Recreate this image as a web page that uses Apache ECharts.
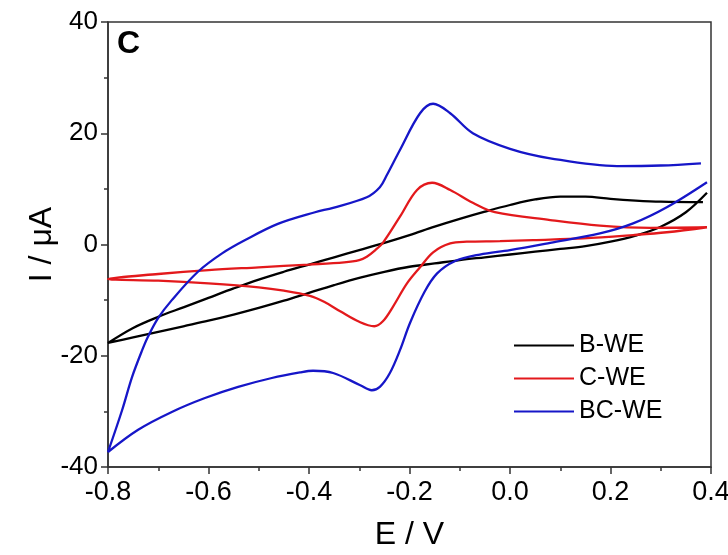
<!DOCTYPE html>
<html>
<head>
<meta charset="utf-8">
<script src="https://cdn.jsdelivr.net/npm/echarts@6/dist/echarts.min.js"></script>
<style>
html,body{margin:0;padding:0;background:#fff;}
#chart{width:728px;height:555px;}
</style>
</head>
<body>
<div id="chart"></div>
<script>
// B-WE (return branch from right end down to -0.8, then forward branch back to right end)
const bE = [0.392, 0.35, 0.3, 0.25, 0.2, 0.15, 0.1, 0.05, 0.0, -0.05, -0.1, -0.15, -0.2, -0.25, -0.3, -0.35, -0.4, -0.45, -0.5, -0.55, -0.6, -0.65, -0.7, -0.75, -0.8,
            -0.75, -0.7, -0.65, -0.6, -0.55, -0.5, -0.45, -0.4, -0.35, -0.3, -0.25, -0.2, -0.15, -0.1, -0.05, 0.0, 0.05, 0.1, 0.15, 0.2, 0.25, 0.3, 0.384];
const bI = [9.3, 5.8, 3.2, 1.6, 0.5, -0.3, -0.8, -1.3, -1.8, -2.3, -2.8, -3.4, -4.0, -4.9, -6.0, -7.3, -8.7, -10.1, -11.4, -12.6, -13.7, -14.7, -15.7, -16.7, -17.7,
            -15.0, -13.0, -11.3, -9.6, -7.9, -6.3, -4.9, -3.6, -2.3, -1.0, 0.3, 1.7, 3.2, 4.6, 5.9, 7.1, 8.1, 8.6, 8.6, 8.2, 7.9, 7.7, 7.6];
// C-WE
const cE = [0.392, 0.312, 0.245, 0.145, 0.046, -0.02, -0.086, -0.119, -0.153, -0.179, -0.205, -0.233, -0.253, -0.27, -0.3, -0.338, -0.37, -0.4, -0.45, -0.5, -0.6, -0.7, -0.8,
            -0.7, -0.6, -0.5, -0.4, -0.33, -0.3, -0.285, -0.268, -0.253, -0.219, -0.185, -0.155, -0.119, -0.074, -0.03, 0.08, 0.179, 0.279, 0.392];
const cI = [3.1, 2.2, 1.7, 1.1, 0.8, 0.6, 0.5, 0.2, -1.4, -4.1, -7.0, -11.2, -13.8, -14.7, -13.9, -12.0, -10.3, -9.2, -8.3, -7.7, -7.0, -6.5, -6.2,
            -5.3, -4.6, -4.1, -3.6, -3.2, -2.8, -2.2, -1.0, 0.3, 5.0, 9.8, 11.1, 9.8, 7.5, 5.8, 4.4, 3.4, 3.0, 3.1];
// BC-WE
const bcE = [0.392, 0.312, 0.245, 0.179, 0.08, 0.0, -0.06, -0.11, -0.145, -0.17, -0.199, -0.219, -0.239, -0.259, -0.275, -0.298, -0.352, -0.392, -0.418, -0.474, -0.541, -0.607, -0.673, -0.74, -0.8,
             -0.772, -0.752, -0.732, -0.72, -0.70, -0.673, -0.621, -0.573, -0.527, -0.462, -0.388, -0.352, -0.285, -0.259, -0.245, -0.219, -0.179, -0.153, -0.119, -0.074, 0.0, 0.08, 0.213, 0.3, 0.38];
const bcI = [11.2, 6.7, 3.8, 2.0, 0.3, -1.0, -1.8, -3.0, -5.2, -8.5, -14.1, -19.0, -23.1, -25.6, -26.2, -25.3, -23.1, -22.7, -23.0, -24.0, -25.6, -27.6, -30.1, -33.3, -37.3,
             -29.8, -23.8, -19.0, -16.5, -13.2, -10.0, -4.9, -1.6, 0.8, 3.7, 5.8, 6.6, 8.5, 10.3, 12.5, 17.0, 23.6, 25.3, 23.6, 20.0, 17.2, 15.5, 14.1, 14.2, 14.6];

const seriesNames = ['B-WE', 'C-WE', 'BC-WE'];
const seriesColors = ['#000000', '#e3191c', '#1616c8'];
const xTicks = [-0.8, -0.6, -0.4, -0.2, 0.0, 0.2, 0.4];
const yTicks = [-40, -20, 0, 20, 40];

function pairs(E, I){ return E.map((e, i) => [e, I[i]]); }
const allData = [pairs(bE, bI), pairs(cE, cI), pairs(bcE, bcI)];

const FONT = "'Liberation Sans', Arial, sans-serif";
const chart = echarts.init(document.getElementById('chart'), null, {renderer: 'canvas'});
chart.setOption({
  animation: false,
  backgroundColor: '#fff',
  grid: {left: 108, right: 17, top: 22, bottom: 88, containLabel: false, outerBoundsMode: 'none',
         show: true, borderColor: '#333', borderWidth: 1.5, backgroundColor: 'transparent'},
  title: {text: 'C', left: 112, top: 23, textStyle: {fontFamily: FONT, fontWeight: 'bold', fontSize: 32, color: '#000'}},
  legend: {
    orient: 'vertical', left: 509, top: 328, itemWidth: 60, itemHeight: 2, itemGap: 8, icon: 'rect',
    textStyle: {fontFamily: FONT, fontSize: 25, color: '#000', padding: [0, 0, 0, 0], lineHeight: 25},
    data: seriesNames
  },
  xAxis: {
    type: 'value', min: xTicks[0], max: xTicks[xTicks.length - 1], interval: 0.2,
    name: 'E / V', nameLocation: 'middle', nameGap: 52, nameMoveOverlap: false,
    nameTextStyle: {fontFamily: FONT, fontSize: 32, color: '#000'},
    axisLine: {show: true, onZero: false, lineStyle: {color: '#333', width: 1.5}},
    axisTick: {show: true, inside: false, length: 7, lineStyle: {color: '#333', width: 1.5}},
    minorTick: {show: true, splitNumber: 2, length: 4, lineStyle: {color: '#333', width: 1.5}},
    splitLine: {show: false},
    axisLabel: {fontFamily: FONT, fontSize: 27, color: '#000', margin: 12,
      formatter: v => (Math.abs(v) < 1e-9 ? 0 : v).toFixed(1)}
  },
  yAxis: {
    type: 'value', min: yTicks[0], max: yTicks[yTicks.length - 1], interval: 20,
    name: 'I / \u03bcA', nameLocation: 'middle', nameGap: 50, nameRotate: 90, nameMoveOverlap: false,
    nameTextStyle: {fontFamily: FONT, fontSize: 32, color: '#000'},
    axisLine: {show: true, onZero: false, lineStyle: {color: '#333', width: 1.5}},
    axisTick: {show: true, inside: false, length: 7, lineStyle: {color: '#333', width: 1.5}},
    minorTick: {show: true, splitNumber: 2, length: 4, lineStyle: {color: '#333', width: 1.5}},
    splitLine: {show: false},
    axisLabel: {fontFamily: FONT, fontSize: 26, color: '#000', margin: 10}
  },
  series: seriesNames.map((n, k) => ({
    name: n, type: 'line', data: allData[k], showSymbol: false, smooth: 0.35,
    lineStyle: {color: seriesColors[k], width: 2.3}, itemStyle: {color: seriesColors[k]},
    clip: true
  }))
});
</script>
</body>
</html>
